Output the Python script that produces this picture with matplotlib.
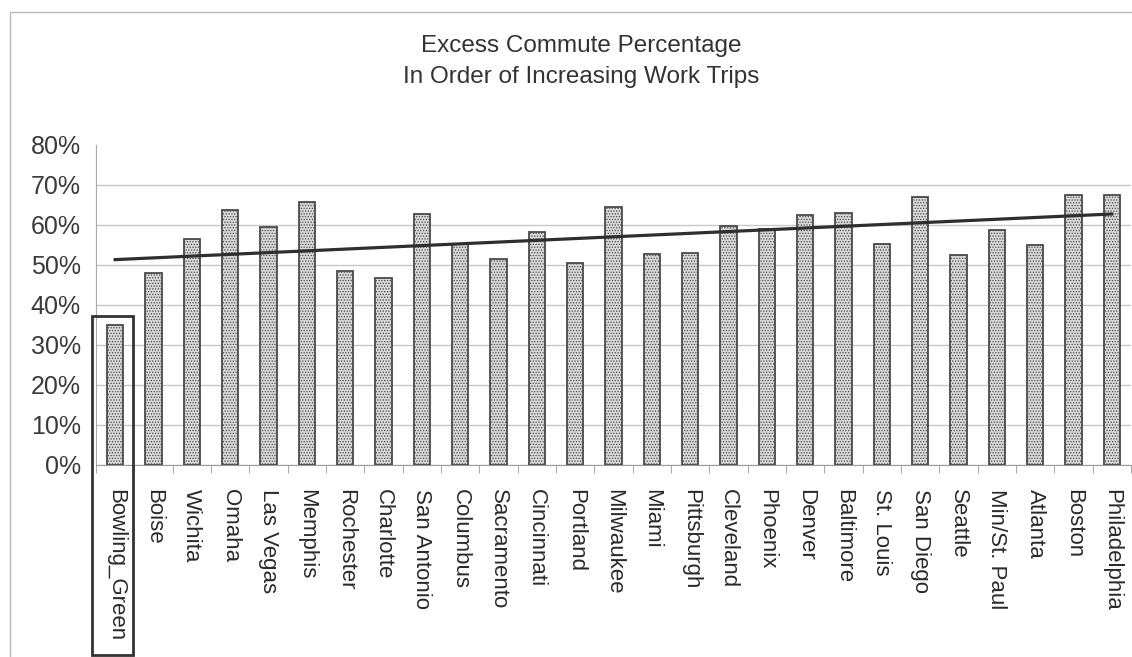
import numpy as np
import matplotlib
matplotlib.use("Agg")
import matplotlib.pyplot as plt
from matplotlib.patches import Rectangle
from matplotlib.ticker import FixedLocator, PercentFormatter

plt.rcParams['font.family'] = ['Liberation Sans', 'DejaVu Sans']
plt.rcParams['hatch.color'] = '#c2c2c2'
plt.rcParams['hatch.linewidth'] = 0.6

# Cities in order of increasing work trips
cities = ["Bowling_Green", "Boise", "Wichita", "Omaha", "Las Vegas", "Memphis",
          "Rochester", "Charlotte", "San Antonio", "Columbus", "Sacramento",
          "Cincinnati", "Portland", "Milwaukee", "Miami", "Pittsburgh",
          "Cleveland", "Phoenix", "Denver", "Baltimore", "St. Louis",
          "San Diego", "Seattle", "Min/St. Paul", "Atlanta", "Boston",
          "Philadelphia"]

# Excess commute, percent
excess_pct = [35.0, 47.9, 56.5, 63.8, 59.4, 65.8, 48.4, 46.8, 62.7, 55.2, 51.4,
              58.3, 50.6, 64.4, 52.7, 53.1, 59.8, 59.0, 62.6, 63.1, 55.3, 67.1,
              52.5, 58.7, 55.0, 67.6, 67.6]

highlight = "Bowling_Green"

W, H = 1132, 657
fig = plt.figure(figsize=(W / 100, H / 100), dpi=100)
fig.patch.set_facecolor("white")

# chart-area border (extends past right/bottom edge)
fig.patches.append(Rectangle((10 / W, -0.1), 1.2, 1 - 12 / H + 0.1,
                             transform=fig.transFigure, fill=False,
                             edgecolor="#b8b8b8", linewidth=1.0))

ax = fig.add_axes([96 / W, 1 - 465 / H, (1131 - 96) / W, (465 - 145) / H])
x = np.arange(len(cities))
ax.bar(x, excess_pct, width=0.43, color="#d9d9d9", edgecolor="#4a4a4a",
       linewidth=1.3, hatch="......", zorder=3)

# linear trend line
coef = np.polyfit(x, excess_pct, 1)
ax.plot(x, np.polyval(coef, x), color="#2e2e2e", linewidth=2.3, zorder=4)

ax.set_xlim(-0.5, len(cities) - 0.5)
ax.set_ylim(0, 80)
ax.yaxis.set_major_locator(FixedLocator(np.arange(0, 81, 10)))
ax.yaxis.set_major_formatter(PercentFormatter(decimals=0))
ax.grid(axis="y", color="#c8c8c8", linewidth=1.0, zorder=0)
ax.get_ygridlines()[-1].set_visible(False)
ax.set_axisbelow(True)

ax.set_xticks(x)
ax.set_xticklabels(cities, rotation=270, fontsize=16, color="#2a2a2a")
ax.set_xticks(np.arange(-0.5, len(cities), 1), minor=True)
ax.tick_params(axis="x", which="major", length=0, pad=17)
ax.tick_params(axis="x", which="minor", length=6, color="#9a9a9a")
ax.tick_params(axis="y", length=0, pad=11, labelsize=18, labelcolor="#3a3a3a")

for s in ("top", "right"):
    ax.spines[s].set_visible(False)
ax.spines["left"].set_color("#a8a8a8")
ax.spines["bottom"].set_color("#9a9a9a")

# box around the highlighted city and its label
i = cities.index(highlight)
ax.add_patch(Rectangle((i - 0.61, -47.5), 1.07, 37.3 + 47.5, fill=False,
                       edgecolor="#333333", linewidth=2.0, clip_on=False,
                       zorder=5))

fig.text(581 / W, 1 - 46 / H, "Excess Commute Percentage", ha="center",
         va="center", fontsize=17.5, color="#333333")
fig.text(581 / W, 1 - 77 / H, "In Order of Increasing Work Trips", ha="center",
         va="center", fontsize=17.5, color="#333333")

fig.savefig("out.png", dpi=100, facecolor="white")
